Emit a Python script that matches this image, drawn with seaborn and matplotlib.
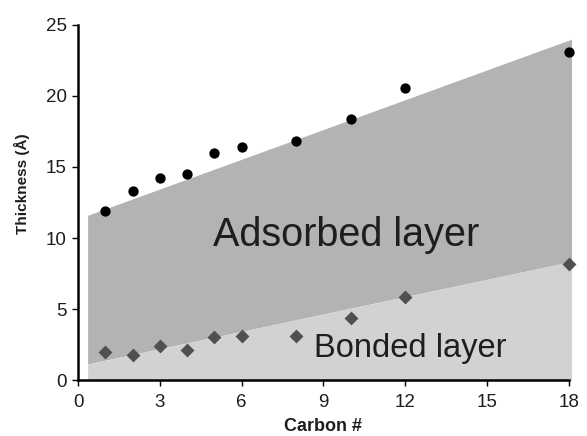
import matplotlib
matplotlib.use("Agg")
import matplotlib.pyplot as plt
import seaborn as sns
import pandas as pd

# Data
carbon_adsorbed = [1, 2, 3, 4, 5, 6, 8, 10, 12, 18]
thickness_adsorbed = [11.9, 13.3, 14.25, 14.5, 16.0, 16.4, 16.8, 18.4, 20.55, 23.1]
carbon_bonded = [1, 2, 3, 4, 5, 6, 8, 10, 12, 18]
thickness_bonded = [1.95, 1.75, 2.4, 2.1, 3.05, 3.1, 3.1, 4.35, 5.85, 8.2]

band_x = [0.35, 18.1]
band_upper = [11.6, 24.0]
band_lower = [1.13, 8.35]

x_ticks = [0, 3, 6, 9, 12, 15, 18]
y_ticks = [0, 5, 10, 15, 20, 25]

sns.set_style("white")
plt.rcParams['font.family'] = ['Liberation Sans', 'DejaVu Sans']

fig = plt.figure(figsize=(5.87, 4.36), dpi=100)
ax = fig.add_axes([0.133, 0.1284, 0.836, 0.8143])

ax.fill_between(band_x, band_lower, band_upper, color="#b3b3b3", linewidth=0, clip_on=False, zorder=1)
ax.fill_between(band_x, [0, 0], band_lower, color="#d2d2d2", linewidth=0, clip_on=False, zorder=1)

df_a = pd.DataFrame({"Carbon": carbon_adsorbed, "Thickness": thickness_adsorbed})
df_b = pd.DataFrame({"Carbon": carbon_bonded, "Thickness": thickness_bonded})
sns.scatterplot(data=df_a, x="Carbon", y="Thickness", ax=ax, marker="o", s=55,
                color="black", edgecolor="black", linewidth=0, zorder=3, clip_on=False)
sns.scatterplot(data=df_b, x="Carbon", y="Thickness", ax=ax, marker="D", s=50,
                color="#505050", edgecolor="#505050", linewidth=0, zorder=3, clip_on=False)

ax.text(9.85, 10.2, "Adsorbed layer", fontsize=28.5, color="#1e1e1e", ha="center", va="center", zorder=4)
ax.text(12.2, 2.2, "Bonded layer", fontsize=23.5, color="#1e1e1e", ha="center", va="center", zorder=4)

ax.set_xlim(0, 18)
ax.set_ylim(0, 25)
ax.set_xticks(x_ticks)
ax.set_yticks(y_ticks)
ax.set_xlabel("Carbon #", fontsize=13, fontweight="bold", color="#1e1e1e", labelpad=5)
ax.set_ylabel("Thickness (Å)", fontsize=11, fontweight="bold", color="#1e1e1e")
ax.yaxis.set_label_coords(-0.098, 0.553)

for side in ["top", "right"]:
    ax.spines[side].set_visible(False)
for side in ["left", "bottom"]:
    ax.spines[side].set_color("black")
    ax.spines[side].set_linewidth(1.8)
ax.tick_params(axis="both", which="major", direction="out", length=4, width=1,
               color="black", labelsize=13.5, labelcolor="#1e1e1e", bottom=True, left=True)
ax.tick_params(axis="x", pad=6)
ax.tick_params(axis="y", pad=4)

fig.savefig("out.png", dpi=100)
